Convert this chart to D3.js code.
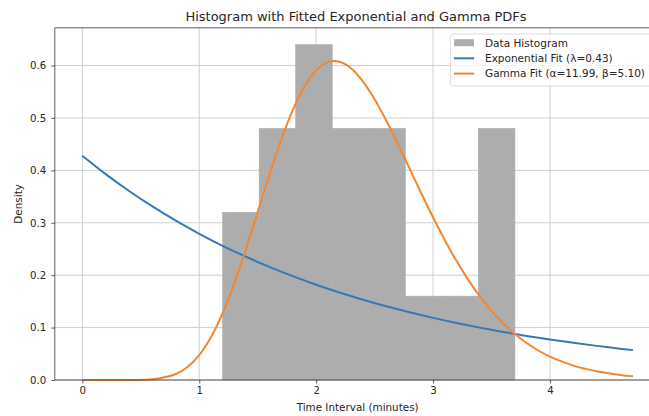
<!DOCTYPE html>
<html><head><meta charset="utf-8">
<script src="https://cdn.jsdelivr.net/npm/d3@7"></script>
<style>
body{margin:0;background:#fff;overflow:hidden}
text{font-family:"DejaVu Sans",sans-serif;fill:#262626}
</style></head>
<body><svg id="c" width="649" height="416"></svg>
<script>
// Histogram bins (edges) and densities
const binEdges = [1.2, 1.5125, 1.825, 2.1375, 2.45, 2.7625, 3.075, 3.3875, 3.7];
const binDensity = [0.32, 0.48, 0.64, 0.48, 0.48, 0.16, 0.16, 0.48];

// Exponential fit curve samples
const expX = [0, 0.2, 0.4, 0.6, 0.8, 1.0, 1.2, 1.4, 1.6, 1.8, 2.0, 2.2, 2.4, 2.6, 2.8, 3.0, 3.2, 3.4, 3.6, 3.8, 4.0, 4.2, 4.4, 4.6, 4.71];
const expY = [0.428, 0.3929, 0.3607, 0.3311, 0.3039, 0.2790, 0.2561, 0.2351, 0.2158, 0.1981, 0.1818, 0.1669, 0.1532, 0.1407, 0.1291, 0.1185, 0.1088, 0.0999, 0.0917, 0.0841, 0.0772, 0.0709, 0.0651, 0.0598, 0.0570];

// Gamma fit curve samples
const gamX = [0, 0.2, 0.4, 0.6, 0.8, 0.9, 1.0, 1.1, 1.2, 1.3, 1.4, 1.5, 1.6, 1.7, 1.8, 1.9, 2.0, 2.1, 2.2, 2.3, 2.4, 2.5, 2.6, 2.7, 2.8, 2.9, 3.0, 3.1, 3.2, 3.3, 3.4, 3.5, 3.6, 3.7, 3.8, 3.9, 4.0, 4.2, 4.4, 4.6, 4.71];
const gamY = [0, 0, 0.00004, 0.0013, 0.0114, 0.0249, 0.0476, 0.0815, 0.1274, 0.1844, 0.2501, 0.3204, 0.3911, 0.4574, 0.5148, 0.5599, 0.5909, 0.6065, 0.6072, 0.5945, 0.5698, 0.5358, 0.4951, 0.4502, 0.4030, 0.3559, 0.3104, 0.2671, 0.2274, 0.1915, 0.1596, 0.1319, 0.1079, 0.0876, 0.0705, 0.0563, 0.0446, 0.0275, 0.0166, 0.0097, 0.0072];

const xTicks = [0, 1, 2, 3, 4];
const yTicks = [0.0, 0.1, 0.2, 0.3, 0.4, 0.5, 0.6];

const titleText = "Histogram with Fitted Exponential and Gamma PDFs";
const xLabel = "Time Interval (minutes)";
const yLabel = "Density";
const legendLabels = ["Data Histogram", "Exponential Fit (\u03bb=0.43)", "Gamma Fit (\u03b1=11.99, \u03b2=5.10)"];

const svg = d3.select("#c");
const L = 54.8, R = 660.5, T = 27.8, B = 380;
const x = d3.scaleLinear().domain([-0.2355, 4.9455]).range([L, R]);
const y = d3.scaleLinear().domain([0, 0.672]).range([B, T]);

const cBlue = "#3579b8", cOrange = "#f5862e", cBar = "#adadad";

// grid
const g = svg.append("g");
g.selectAll(".gx").data(xTicks).join("line")
  .attr("x1", d => x(d)).attr("x2", d => x(d)).attr("y1", T).attr("y2", B)
  .attr("stroke", "#cfcfcf").attr("stroke-width", 1);
g.selectAll(".gy").data(yTicks).join("line")
  .attr("x1", L).attr("x2", R).attr("y1", d => y(d)).attr("y2", d => y(d))
  .attr("stroke", "#cfcfcf").attr("stroke-width", 1);

// bars
const bins = binDensity.map((v, i) => ({x0: binEdges[i], x1: binEdges[i + 1], v}));
svg.append("g").selectAll("rect").data(bins).join("rect")
  .attr("x", d => x(d.x0)).attr("width", d => x(d.x1) - x(d.x0))
  .attr("y", d => y(d.v)).attr("height", d => y(0) - y(d.v))
  .attr("fill", cBar).attr("stroke", cBar).attr("stroke-width", 0.6);

// curves
const line = d3.line().x(d => x(d[0])).y(d => y(d[1])).curve(d3.curveCatmullRom.alpha(0.5));
svg.append("path").datum(expX.map((v, i) => [v, expY[i]]))
  .attr("d", line).attr("fill", "none").attr("stroke", cBlue).attr("stroke-width", 2);
svg.append("path").datum(gamX.map((v, i) => [v, gamY[i]]))
  .attr("d", line).attr("fill", "none").attr("stroke", cOrange).attr("stroke-width", 2);

// axes
const xa = svg.append("g").attr("transform", `translate(0,${B})`)
  .call(d3.axisBottom(x).tickValues(xTicks).tickFormat(d3.format("d")).tickSize(3.5).tickPadding(3.5));
const ya = svg.append("g").attr("transform", `translate(${L},0)`)
  .call(d3.axisLeft(y).tickValues(yTicks).tickFormat(d3.format(".1f")).tickSize(3.5).tickPadding(5));
[xa, ya].forEach(a => {
  a.select(".domain").remove();
  a.selectAll("line").attr("stroke", "#333").attr("stroke-width", 0.8);
  a.selectAll("text").attr("font-size", 10.2).attr("font-family", "DejaVu Sans").attr("fill", "#262626");
});

// spines
svg.append("line").attr("x1", L).attr("x2", L).attr("y1", T).attr("y2", B).attr("stroke", "#333").attr("stroke-width", 0.8);
svg.append("line").attr("x1", L).attr("x2", R).attr("y1", B).attr("y2", B).attr("stroke", "#333").attr("stroke-width", 0.8);
svg.append("line").attr("x1", L).attr("x2", R).attr("y1", T).attr("y2", T).attr("stroke", "#333").attr("stroke-width", 0.8);

// labels
svg.append("text").attr("x", 356).attr("y", 21).attr("text-anchor", "middle").attr("font-size", 13).text(titleText);
svg.append("text").attr("x", (L + R) / 2).attr("y", 411).attr("text-anchor", "middle").attr("font-size", 10.4).text(xLabel);
svg.append("text").attr("transform", `translate(21.5,${(T + B) / 2}) rotate(-90)`).attr("text-anchor", "middle").attr("font-size", 10.4).text(yLabel);

// legend
const lg = svg.append("g");
lg.append("rect").attr("x", 450.5).attr("y", 34).attr("width", 205).attr("height", 52).attr("rx", 2.5)
  .attr("fill", "rgba(255,255,255,0.8)").attr("stroke", "#d5d5d5").attr("stroke-width", 0.8);
const rows = [42.7, 58.3, 73.6];
lg.append("rect").attr("x", 454).attr("y", rows[0] - 3.5).attr("width", 20).attr("height", 7).attr("fill", cBar);
lg.append("line").attr("x1", 454).attr("x2", 474).attr("y1", rows[1]).attr("y2", rows[1]).attr("stroke", cBlue).attr("stroke-width", 2);
lg.append("line").attr("x1", 454).attr("x2", 474).attr("y1", rows[2]).attr("y2", rows[2]).attr("stroke", cOrange).attr("stroke-width", 2);
lg.selectAll(".lt").data(legendLabels).join("text")
  .attr("x", 485).attr("y", (d, i) => rows[i] + 3.8).attr("font-size", 10.5).text(d => d);
</script></body></html>
